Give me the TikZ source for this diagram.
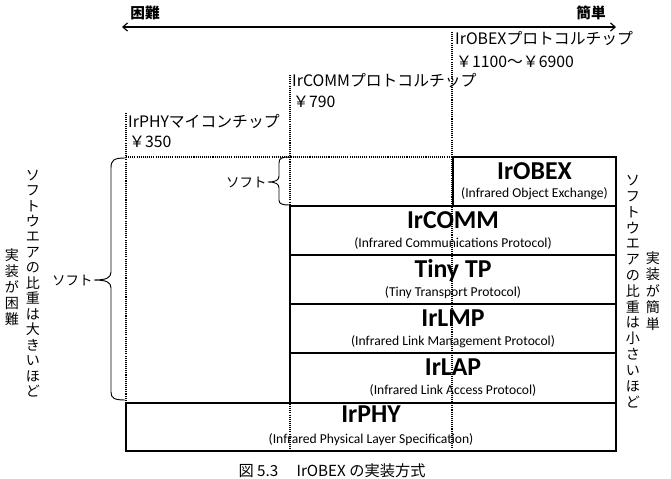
\documentclass[tikz,border=0pt]{standalone}
\usepackage{fontspec}
\setmainfont{Carlito}
\newfontfamily\cjk{Noto Sans CJK JP}
\usetikzlibrary{arrows.meta, positioning}

\begin{document}
\begin{tikzpicture}[x=0.03cm, y=-0.03cm, >={Straight Barb[length=4pt, width=7pt]},
  layer/.style={draw, line width=1.3pt},
  ttl/.style={anchor=base, inner sep=0pt, font=\fontsize{22}{24}\selectfont\bfseries},
  sub/.style={anchor=base, inner sep=0pt, font=\fontsize{11.6}{13}\selectfont},
  chip/.style={anchor=west, inner sep=0pt, font=\cjk\fontsize{13.5}{15}\selectfont},
  guide/.style={line width=0.9pt, dash pattern=on 0.9pt off 0.9pt},
  brc/.style={line width=0.8pt},
  lbl/.style={inner sep=0pt, font=\cjk\fontsize{11.5}{14}\selectfont},
  vtxt/.style={align=center, inner sep=0pt, font=\cjk\fontsize{12}{13.2}\selectfont}]
  \useasboundingbox (0,0) rectangle (671,479);

  % difficulty arrow
  \coordinate (hardEnd) at (122,27);
  \coordinate (easyEnd) at (616,27);
  \draw[<->, line width=1pt] (hardEnd) -- (easyEnd);
  \node[lbl, font=\cjk\bfseries\fontsize{12.5}{14}\selectfont] (hard) at (145,13) {困難};
  \node[lbl, font=\cjk\bfseries\fontsize{12.5}{14}\selectfont] (easy) at (591,13) {簡単};

  % chip labels
  \node[chip] (obexChip) at (455,39) {IrOBEXプロトコルチップ};
  \node[chip] (obexPrice) at (456,62) {￥1100～￥6900};
  \node[chip] (commChip) at (292,81) {IrCOMMプロトコルチップ};
  \node[chip] (commPrice) at (293,102) {￥790};
  \node[chip] (phyChip) at (128,122) {IrPHYマイコンチップ};
  \node[chip] (phyPrice) at (129,142) {￥350};

  % protocol stack
  \draw[layer] (453,157) rectangle (616,206);
  \node[ttl] (obexT) at (534.5,179) {IrOBEX};
  \node[sub] (obexS) at (534.5,197) {(Infrared Object Exchange)};

  \draw[layer] (290,206) rectangle (616,255);
  \node[ttl] (commT) at (453,228) {IrCOMM};
  \node[sub] (commS) at (453,247) {(Infrared Communications Protocol)};

  \draw[layer] (290,255) rectangle (616,304);
  \node[ttl] (tinyT) at (453,277) {Tiny TP};
  \node[sub] (tinyS) at (453,296) {(Tiny Transport Protocol)};

  \draw[layer] (290,304) rectangle (616,353);
  \node[ttl] (lmpT) at (453,326) {IrLMP};
  \node[sub] (lmpS) at (453,345) {(Infrared Link Management Protocol)};

  \draw[layer] (290,353) rectangle (616,403);
  \node[ttl] (lapT) at (453,375) {IrLAP};
  \node[sub] (lapS) at (453,394) {(Infrared Link Access Protocol)};

  \draw[layer] (126,403) rectangle (616,451);
  \draw[line width=1.8pt] (126,403) -- (616,403);
  \node[ttl] (phyT) at (371,422) {IrPHY};
  \node[sub] (phyS) at (371,443) {(Infrared Physical Layer Specification)};

  % chip boundaries
  \draw[guide] (126,113) -- (126,403);
  \draw[guide] (290,75) -- (290,451);
  \draw[guide] (452,32) -- (452,451);
  \draw[guide] (126,157) -- (453,157);

  % software braces
  \draw[brc] (125,158) .. controls (114,158) and (111,160) .. (111,168) -- (111,272)
    .. controls (111,278) and (106,280) .. (94,280)
    .. controls (106,280) and (111,282) .. (111,288) -- (111,392)
    .. controls (111,398) and (114,400) .. (125,400);
  \coordinate (bigTip) at (94,280);
  \node[lbl, left=1pt of bigTip] (softBig) {ソフト};

  \draw[brc] (290,157) .. controls (282,157) and (279,158) .. (279,163) -- (279,176)
    .. controls (279,180) and (276,182) .. (268,182)
    .. controls (276,182) and (279,184) .. (279,188) -- (279,200)
    .. controls (279,204) and (282,205) .. (290,205);
  \coordinate (smallTip) at (268,182);
  \node[lbl, left=1pt of smallTip] (softSmall) {ソフト};

  % vertical notes
  \node[vtxt] (leftMain) at (33,283.5) {ソ\\フ\\ト\\ウ\\エ\\ア\\の\\比\\重\\は\\大\\き\\い\\ほ\\ど};
  \node[vtxt, font=\cjk\fontsize{12}{13.6}\selectfont] (leftSub) at (12,287) {実\\装\\が\\困\\難};
  \node[vtxt, font=\cjk\fontsize{12}{13.5}\selectfont] (rightMain) at (633,291.5) {ソ\\フ\\ト\\ウ\\エ\\ア\\の\\比\\重\\は\\小\\さ\\い\\ほ\\ど};
  \node[vtxt, font=\cjk\fontsize{12}{14}\selectfont] (rightSub) at (653,291) {実\\装\\が\\簡\\単};

  % caption
  \node[lbl, font=\cjk\fontsize{13}{15}\selectfont] (caption) at (332,471) {図 5.3\hspace{1.2em}IrOBEX の実装方式};
\end{tikzpicture}
\end{document}
